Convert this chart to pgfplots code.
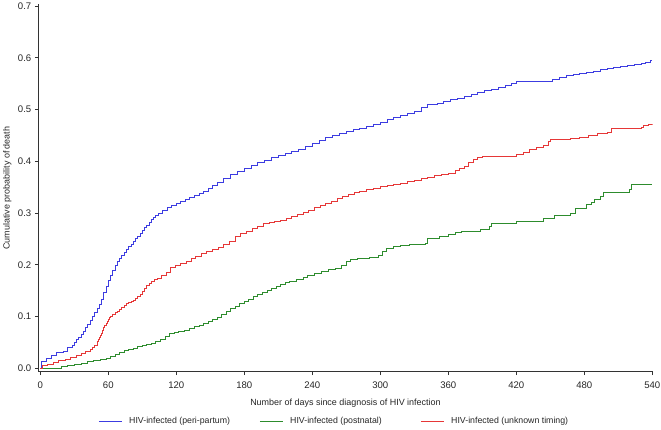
\documentclass[border=0pt]{standalone}
\usepackage{fontspec}
\setmainfont{Liberation Sans}
\usepackage{pgfplots}
\pgfplotsset{compat=1.18}
\definecolor{cblue}{RGB}{60,60,225}
\definecolor{cgreen}{RGB}{45,140,45}
\definecolor{cred}{RGB}{230,55,55}
\begin{document}
\begin{tikzpicture}
\begin{axis}[
  at={(0,0)}, anchor=south west,
  scale only axis, width=614.3bp, height=367.2bp,
  xmin=-1.76, xmax=540.3, ymin=-0.0066, ymax=0.703,
  axis lines*=left,
  axis line style={draw=black!80, line width=0.8bp},
  xtick={0,60,...,540}, ytick={0,0.1,0.2,0.3,0.4,0.5,0.6,0.7},
  /pgf/number format/assume math mode=true,
  yticklabel style={/pgf/number format/.cd, fixed, fixed zerofill, precision=1},
  xticklabel style={yshift=-3bp},
  tick align=outside, major tick length=3.5bp,
  tick style={draw=black!80, line width=0.7bp},
  tick label style={font=\fontsize{9.6}{11}\selectfont, text=black!85},
  every axis x label/.style={at={(axis description cs:0.5,0)}, anchor=center, yshift=-31.6bp},
  every axis y label/.style={at={(axis description cs:0,0.5)}, xshift=-31bp, rotate=90, anchor=center},
  label style={font=\fontsize{9}{10}\selectfont, text=black!85},
  xlabel={Number of days since diagnosis of HIV infection},
  ylabel={Cumulative probability of death},
  legend columns=3,
  legend style={at={(axis description cs:0,0)}, anchor=west, xshift=60bp, yshift=-49.8bp,
    draw=none, fill=none, inner sep=0pt, column sep=0pt,
    nodes={inner sep=0pt, font=\fontsize{8.8}{10}\selectfont, text=black!85}},
  legend image code/.code={\draw[#1, line width=1bp] (0bp,0bp) -- (23.4bp,0bp);},
  every axis plot/.append style={line width=0.85bp, const plot mark left, no marks},
]
\addplot[cblue] coordinates {
(0,0.0)(1,0.013)(5,0.020)(10,0.025)(14,0.030)(20,0.032)(24,0.040)(28,0.045)(30,0.050)(32,0.055)(34,0.060)(36,0.066)
(38,0.072)(40,0.078)(42,0.085)(44,0.092)(46,0.100)(48,0.108)(50,0.116)(52,0.124)(54,0.134)(56,0.146)(58,0.158)
(60,0.170)(62,0.180)(64,0.190)(66,0.198)(68,0.206)(70,0.212)(72,0.218)(74,0.224)(76,0.230)(78,0.235)(80,0.240)
(82,0.245)(84,0.250)(86,0.255)(88,0.260)(90,0.266)(92,0.272)(94,0.277)(96,0.282)(98,0.287)(100,0.292)(102,0.296)
(104,0.300)(108,0.305)(112,0.310)
(116,0.314)(120,0.318)(124,0.322)(128,0.326)(132,0.330)(136,0.334)(140,0.337)(144,0.342)(148,0.348)(152,0.354)
(156,0.360)(162,0.366)(168,0.374)(174,0.380)(180,0.387)(186,0.392)(192,0.398)(198,0.402)(204,0.407)(210,0.411)
(216,0.415)(222,0.419)(228,0.423)(234,0.428)(240,0.434)(246,0.441)(252,0.446)(258,0.450)(264,0.454)(270,0.458)
(276,0.461)(282,0.464)(288,0.467)(294,0.471)(300,0.476)(306,0.480)(312,0.484)(318,0.488)(324,0.492)(330,0.497)
(336,0.504)(342,0.509)(350,0.512)(356,0.516)(362,0.519)(368,0.522)(374,0.526)(380,0.530)(386,0.533)(392,0.536)
(398,0.538)(404,0.542)(410,0.546)(416,0.550)(420,0.554)(446,0.555)(452,0.558)(458,0.562)(464,0.565)(470,0.567)
(476,0.570)(482,0.572)(488,0.574)(494,0.577)(500,0.580)(506,0.582)(512,0.584)(518,0.585)(524,0.587)(530,0.589)
(534,0.592)(538,0.595)(540,0.595)};
\addlegendentry{\makebox[136.6bp][l]{\hspace{6.3bp}HIV-infected (peri-partum)}}
\addplot[cgreen] coordinates {
(0,0.0)(19,0.003)(24,0.006)(30,0.008)(36,0.010)(42,0.013)(47,0.016)(53,0.018)(58,0.020)(62,0.022)
(66,0.026)(70,0.030)(74,0.034)(78,0.036)(82,0.039)(86,0.042)(90,0.045)(94,0.047)(98,0.049)(102,0.052)
(106,0.056)(110,0.062)(114,0.067)(118,0.070)(122,0.072)(127,0.074)(132,0.077)(136,0.080)(140,0.083)(144,0.086)
(148,0.090)(152,0.094)(156,0.098)(160,0.104)(164,0.110)(168,0.116)(172,0.120)(176,0.125)(180,0.129)(184,0.134)
(188,0.138)(192,0.142)(196,0.146)(200,0.150)(204,0.154)(208,0.158)(212,0.162)(216,0.165)(220,0.168)(226,0.171)
(232,0.176)(236,0.180)(242,0.184)(248,0.188)(254,0.191)(260,0.193)(266,0.199)(270,0.206)(274,0.210)(280,0.212)
(290,0.214)(298,0.218)(302,0.225)(305,0.232)(312,0.236)(318,0.238)(326,0.240)(340,0.242)(342,0.250)(352,0.254)
(360,0.258)(366,0.262)(372,0.264)(388,0.268)(396,0.275)(398,0.279)(420,0.284)(444,0.290)(454,0.296)(468,0.300)
(472,0.309)(482,0.316)(486,0.320)(489,0.326)(494,0.332)(497,0.340)(520,0.345)(522,0.356)(540,0.356)};
\addlegendentry{\makebox[136.6bp][l]{\hspace{6.3bp}HIV-infected (postnatal)}}
\addplot[cred] coordinates {
(0,0.0)(2,0.005)(6,0.008)(12,0.012)(16,0.016)(22,0.018)(27,0.021)(32,0.024)(36,0.028)(40,0.032)
(44,0.036)(46,0.040)(48,0.045)(50,0.052)(51,0.056)(52,0.060)(53,0.064)(54,0.068)(55,0.073)(56,0.078)(57,0.083)
(58,0.087)(59,0.091)(60,0.094)(61,0.098)(62,0.101)(64,0.104)(66,0.107)(68,0.110)(70,0.113)(72,0.117)(74,0.121)
(76,0.125)(78,0.127)(80,0.129)(82,0.132)(84,0.135)(86,0.139)(88,0.143)(90,0.149)(92,0.155)(94,0.161)(96,0.164)
(98,0.167)(101,0.171)(103,0.174)
(107,0.180)(111,0.186)(115,0.194)(119,0.198)(124,0.202)(129,0.206)(133,0.212)(137,0.217)(142,0.221)(147,0.225)
(152,0.230)(157,0.234)(162,0.240)(167,0.246)(172,0.254)(177,0.260)(182,0.265)(187,0.270)(192,0.275)(197,0.279)
(202,0.282)(207,0.284)(212,0.286)(217,0.290)(222,0.293)(227,0.297)(232,0.302)(237,0.306)(242,0.310)(247,0.314)
(252,0.318)(257,0.323)(262,0.328)(267,0.332)(272,0.336)(277,0.339)(282,0.342)(288,0.345)(294,0.348)(300,0.351)
(306,0.353)(312,0.356)(318,0.358)(324,0.361)(330,0.363)(336,0.366)(342,0.368)(348,0.372)(354,0.374)(360,0.377)
(366,0.382)(370,0.386)(374,0.391)(378,0.398)(382,0.404)(386,0.408)(390,0.410)(416,0.410)(420,0.414)(426,0.417)
(432,0.422)(438,0.426)(444,0.431)(448,0.438)(450,0.443)(468,0.444)(476,0.447)(484,0.450)(492,0.453)(500,0.456)
(504,0.464)(530,0.466)(532,0.469)(537,0.472)(540,0.473)};
\addlegendentry{\makebox[136.6bp][l]{\hspace{6.3bp}HIV-infected (unknown timing)}}
\end{axis}
\pgfresetboundingbox
\path[use as bounding box] (-38.3bp,-58.3bp) rectangle (622.7bp,371.7bp);
\end{tikzpicture}
\end{document}
